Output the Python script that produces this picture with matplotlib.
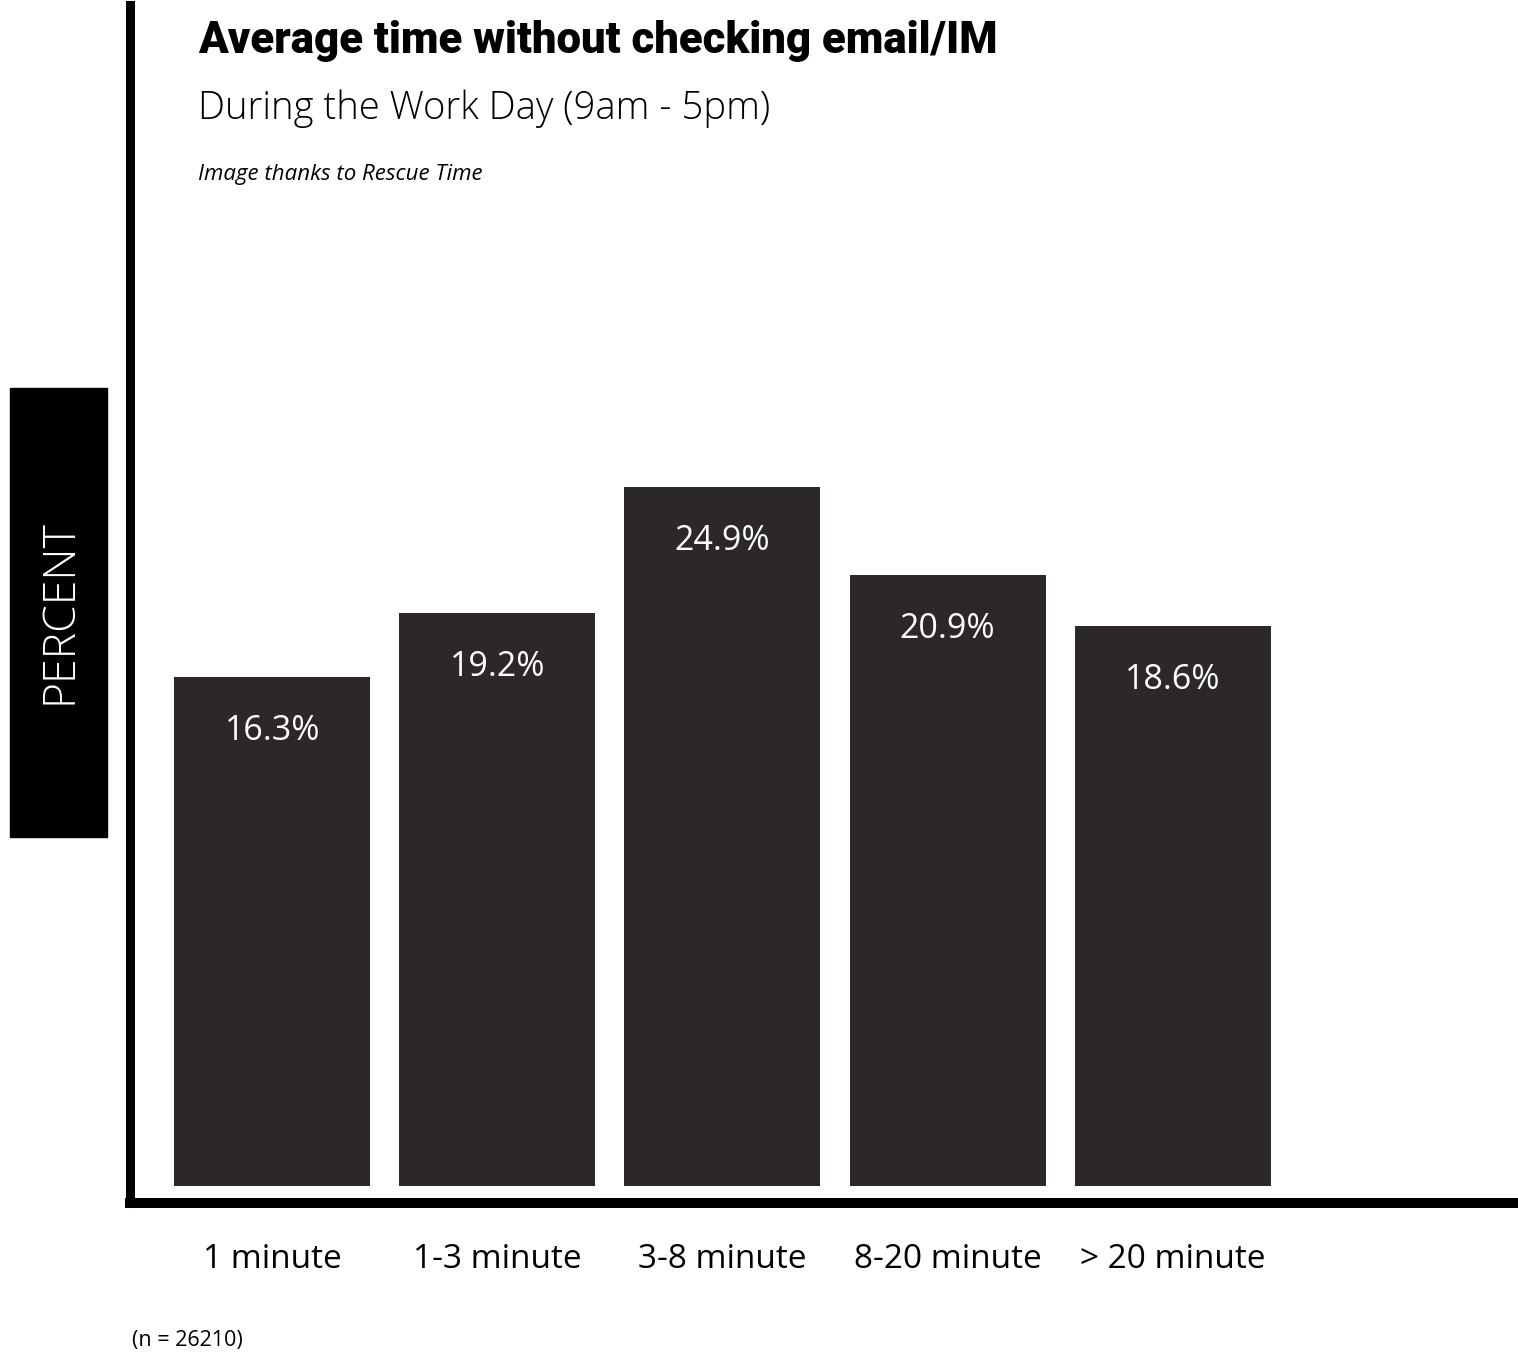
import matplotlib
matplotlib.use("Agg")
from matplotlib import pyplot as plt
from matplotlib.patches import Rectangle
import numpy as np

# data
categories = ["1 minute", "1-3 minute", "3-8 minute", "8-20 minute", "> 20 minute"]
percent = [16.3, 19.2, 24.9, 20.9, 18.6]
sample_size = 26210

title = "Average time without checking email/IM"
subtitle = "During the Work Day (9am - 5pm)"
credit = "Image thanks to Rescue Time"

# style
W, H = 1518, 1356
BAR_COLOR = "#2c2829"
BAR_FLOOR = -6.8       # bars in the original do not start at zero
PX_PER_PCT = 22.05
HEAD = ["Roboto", "DejaVu Sans"]
BODY = ["Open Sans", "DejaVu Sans"]

fig = plt.figure(figsize=(W / 100, H / 100), dpi=100)
fig.patch.set_facecolor("white")

ax_left, ax_bottom_px, ax_top_px = 129.5, 1203, 5
ax = fig.add_axes([ax_left / W, (H - ax_bottom_px) / H,
                   1 - ax_left / W, (ax_bottom_px - ax_top_px) / H])

x = np.arange(len(categories))
ax.bar(x, np.array(percent) - BAR_FLOOR, bottom=BAR_FLOOR, width=0.871,
       color=BAR_COLOR, linewidth=0)

for xi, v in zip(x, percent):
    ax.annotate(f"{v}%", (xi, v), xytext=(0, -39), textcoords="offset points",
                ha="center", va="center", color="white", fontsize=24.5,
                family=BODY)

ax.set_xlim(-0.634, 5.534)
ax.set_ylim(BAR_FLOOR - 17 / PX_PER_PCT, BAR_FLOOR + (1186 - ax_top_px) / PX_PER_PCT)

ax.set_xticks(x)
ax.set_xticklabels(categories, fontsize=24, family=BODY, va="center")
ax.tick_params(axis="x", length=0, pad=40.5)
ax.set_yticks([])

for s in ["top", "right"]:
    ax.spines[s].set_visible(False)
ax.spines["left"].set_linewidth(6.5)
ax.spines["bottom"].set_linewidth(7.2)
ax.spines["left"].set_color("black")
ax.spines["bottom"].set_color("black")
ax.patch.set_alpha(0)

# header texts
fig.text(198 / W, 1 - 53 / H, title, fontsize=31.5, fontweight="black",
         fontstretch="condensed", family=HEAD, va="baseline")
fig.text(198 / W, 1 - 119 / H, subtitle, fontsize=27.5, family=BODY,
         fontweight="light", va="baseline")
fig.text(198 / W, 1 - 180 / H, credit, fontsize=16, family=BODY,
         style="italic", va="baseline")
fig.text(132 / W, 1 - 1346 / H, f"(n = {sample_size})", fontsize=15.5,
         family=BODY, va="baseline")

# y label box
fig.patches.append(Rectangle((10 / W, (H - 837) / H), 97 / W, 449 / H,
                             transform=fig.transFigure, color="black"))
fig.text(60 / W, 1 - 612 / H, "PERCENT", rotation=90, color="white",
         fontsize=32, family=BODY, fontweight="light",
         ha="center", va="center")

fig.savefig("out.png", dpi=100)
